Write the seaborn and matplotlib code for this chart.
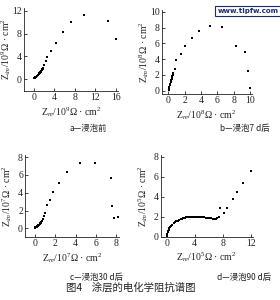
import matplotlib
matplotlib.use("Agg")
import matplotlib.pyplot as plt
import seaborn as sns
import pandas as pd

sns.set_theme(style="ticks")
plt.rcParams['font.family'] = ['Liberation Serif', 'Noto Sans CJK SC', 'DejaVu Sans']
plt.rcParams['mathtext.fontset'] = 'custom'
plt.rcParams['mathtext.rm'] = 'Liberation Serif'
plt.rcParams['mathtext.it'] = 'Liberation Serif:italic'

# Panel a - before immersion
a_x = [0.0, 0.1, 0.2, 0.3, 0.4, 0.5, 0.6, 0.7, 0.8, 0.9, 1.0, 1.1, 1.2, 1.3, 1.4, 1.5, 1.6, 1.7, 1.8,
       2.0, 2.3, 2.6, 3.3, 4.2, 5.6, 7.3, 9.7, 12.4, 14.5, 16.1]
a_y = [0.1, 0.2, 0.3, 0.35, 0.45, 0.55, 0.6, 0.7, 0.8, 0.9, 1.0, 1.1, 1.2, 1.3, 1.4, 1.55, 1.7, 1.8, 1.95,
       2.5, 3.1, 3.9, 5.0, 6.3, 8.2, 10.0, 11.2, 12.6, 10.3, 7.0]

# Panel b - after 7 d
b_x = [0.05, 0.1, 0.15, 0.2, 0.25, 0.3, 0.35, 0.4, 0.45, 0.5, 0.55, 0.6, 0.8,
       1.0, 1.5, 2.0, 2.9, 3.8, 5.1, 6.6, 8.3, 9.4, 9.8, 10.0]
b_y = [0.1, 0.3, 0.5, 0.7, 0.9, 1.1, 1.3, 1.5, 1.7, 1.9, 2.0, 2.2, 2.8,
       3.9, 4.7, 5.7, 6.7, 7.6, 8.2, 8.1, 5.7, 4.9, 2.5, 0.4]

# Panel c - after 30 d
c_x = [0.0, 0.05, 0.1, 0.15, 0.2, 0.25, 0.3, 0.35, 0.4, 0.45, 0.5, 0.55, 0.6, 0.7, 0.8, 0.9,
       1.0, 1.2, 1.5, 1.8, 2.35, 3.1, 4.4, 5.9, 7.45, 7.6, 7.8, 8.2]
c_y = [0.05, 0.1, 0.15, 0.2, 0.25, 0.3, 0.33, 0.38, 0.42, 0.48, 0.55, 0.62, 0.7, 0.85, 1.1, 1.4,
       1.7, 2.6, 3.2, 4.1, 5.1, 6.3, 7.3, 7.4, 5.7, 2.5, 1.2, 1.3]

# Panel d - after 90 d
d_x = [0.05, 0.1, 0.15, 0.2, 0.3, 0.4, 0.5, 0.6, 0.8, 1.0, 1.2, 1.4, 1.6, 1.8, 2.0, 2.2, 2.4, 2.6,
       2.8, 3.0, 3.2, 3.4, 3.6, 3.8, 4.0, 4.2, 4.4, 4.6, 4.8, 5.0, 5.2, 5.4, 5.6, 5.8, 6.0, 6.2,
       6.4, 6.6, 6.8, 7.0, 7.2, 7.5, 7.6, 8.2, 8.6, 9.5, 10.1, 10.9, 12.0]
d_y = [0.1, 0.3, 0.45, 0.55, 0.7, 0.85, 0.95, 1.05, 1.2, 1.35, 1.45, 1.55, 1.62, 1.7, 1.76, 1.82,
       1.86, 1.9, 1.93, 1.96, 1.98, 1.99, 2.0, 2.0, 2.0, 2.0, 2.0, 1.99, 1.98, 1.97, 1.95, 1.93,
       1.91, 1.89, 1.87, 1.85, 1.83, 1.82, 1.81, 1.82, 1.85, 1.95, 2.9, 2.4, 2.9, 3.8, 4.5, 5.4, 6.6]

panels = [
    dict(x=a_x, y=a_y, exp="9", xt=[0, 4, 8, 12, 16], yt=[0, 4, 8, 12],
         xlim=(-1.95, 16.4), ylim=(-2.1, 12.5), cap="a—浸泡前",
         rect=[24/280, 1-91/300, 94/280, 83/300], capxy=(88/280, 1-128/300)),
    dict(x=b_x, y=b_y, exp="8", xt=[0, 2, 4, 6, 8, 10], yt=[0, 2, 4, 6, 8, 10],
         xlim=(-0.8, 10.2), ylim=(-0.45, 10.2), cap="b—浸泡7 d后",
         rect=[161.7/280, 1-94.3/300, 90/280, 84/300], capxy=(245/280, 1-128/300)),
    dict(x=c_x, y=c_y, exp="7", xt=[0, 2, 4, 6, 8], yt=[0, 2, 4, 6, 8],
         xlim=(-0.98, 8.25), ylim=(-0.98, 8.25), cap="c—浸泡30 d后",
         rect=[25/280, 1-237/300, 94/280, 82/300], capxy=(96/280, 1-277/300)),
    dict(x=d_x, y=d_y, exp="5", xt=[0, 4, 8, 12], yt=[0, 2, 4, 6, 8],
         xlim=(-0.85, 12.3), ylim=(0, 8.2), cap="d—浸泡90 d后",
         rect=[160.7/280, 1-236.7/300, 92/280, 82/300], capxy=(244/280, 1-277/300)),
]

fig = plt.figure(figsize=(2.8, 3.0), dpi=100)
fig.patch.set_facecolor("white")

for p in panels:
    ax = fig.add_axes(p["rect"])
    df = pd.DataFrame({"zre": p["x"], "zim": p["y"]})
    sns.scatterplot(data=df, x="zre", y="zim", ax=ax, color="black", marker="s",
                    s=4, linewidth=0, legend=False)
    ax.set_xlim(*p["xlim"])
    ax.set_ylim(*p["ylim"])
    ax.set_xticks(p["xt"])
    ax.set_yticks(p["yt"])
    ax.tick_params(direction="in", length=2, width=0.6, labelsize=7, pad=1.5, colors="#222222")
    for s in ["top", "right"]:
        ax.spines[s].set_visible(False)
    for s in ["left", "bottom"]:
        ax.spines[s].set_linewidth(0.6)
        ax.spines[s].set_color("#222222")
    e = p["exp"]
    ax.set_xlabel(r"Z$_{re}$/10$^{%s}$$\Omega$ · cm$^{2}$" % e, fontsize=7, labelpad=2, color="#222222")
    ax.set_ylabel(r"Z$_{im}$/10$^{%s}$$\Omega$ · cm$^{2}$" % e, fontsize=7, color="#222222")
    w_px = p["rect"][2] * 280
    ax.yaxis.set_label_coords(-10.5 / w_px, 0.5)
    fig.text(p["capxy"][0], p["capxy"][1], p["cap"], fontsize=6,
             family=["Noto Sans CJK SC", "DejaVu Sans"], ha="center", va="center", color="#222222")

fig.text(131/280, 1-287/300, "图4    涂层的电化学阻抗谱图", fontsize=7.5,
         family=["Noto Sans CJK SC", "DejaVu Sans"], ha="center", va="center", color="#222222")

fig.text(248/280, 1-11/300, "www.tlpfw.com", fontsize=5, fontweight="bold", color="#1a2a6c",
         ha="center", va="center", family="DejaVu Sans",
         bbox=dict(boxstyle="square,pad=0.3", fc="white", ec="#1a2a6c", lw=0.8))

fig.savefig("out.png", dpi=100, facecolor="white")
